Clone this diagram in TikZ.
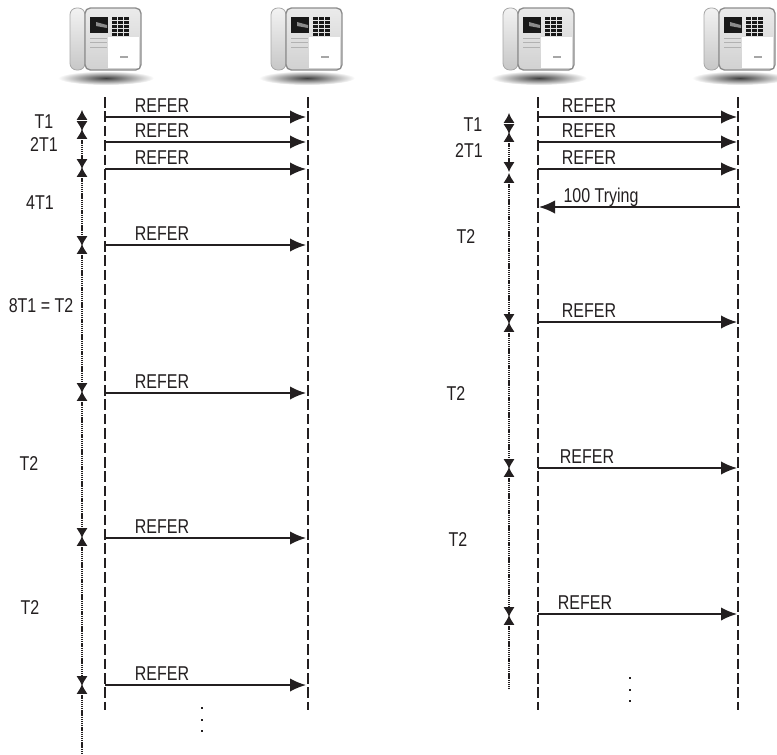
\documentclass[tikz,border=0pt]{standalone}
\usepackage{fontspec}
\setmainfont[FakeStretch=0.8]{Liberation Sans}
\usetikzlibrary{arrows.meta}
\definecolor{inkc}{HTML}{231F20}
\tikzset{
  lifeline/.style={inkc, line width=1.2pt, dash pattern=on 8pt off 2.8pt},
  msg/.style={-{Latex[length=12pt,width=10pt]}, inkc, line width=1.2pt},
  span/.style={{Latex[length=7.5pt,width=8.5pt]}-{Latex[length=7.5pt,width=8.5pt]}, inkc, line width=1.2pt, dash pattern=on 1pt off 0.6pt, shorten <=-0.8pt, shorten >=-0.8pt},
  spanend/.style={{Latex[length=7.5pt,width=8.5pt]}-, inkc, line width=1.2pt, dash pattern=on 1pt off 0.6pt, shorten <=-0.8pt},
  lbl/.style={inkc, font=\fontsize{15pt}{17pt}\selectfont, inner sep=0pt},
  vdot/.style={inkc, fill, minimum size=2.2pt, inner sep=0pt},
  phone/.pic={
    % Bóng dưới máy
    \shade[inner color=black!75, outer color=white] (36,70) ellipse (48 and 7);
    % Tổ hợp và thân máy
    \draw[black!35, line width=0.6pt, rounded corners=5pt, top color=black!5, bottom color=black!22] (0,0) rectangle (15,62);
    \draw[black!45, line width=1pt, rounded corners=4pt, top color=black!8, bottom color=black!18] (15,0) rectangle (71,62);
    \fill[white] (38,29) rectangle (69,60);
    % Màn hình
    \fill[black!90] (20,9) rectangle (38,25);
    \fill[black!45] (26,14) -- (37,17) -- (37,20) -- (26,18) -- cycle;
    % Bàn phím
    \foreach \kx in {42,48,54}
      \foreach \ky in {9,13,17,21,25}
        \fill[black!90] (\kx,\ky) rectangle ++(5,3);
    % Các vạch chữ
    \foreach \ky in {30,34,39}
      \draw[black!30, line width=0.7pt] (20,\ky) -- (37,\ky);
    \fill[black!35] (50,48) rectangle ++(8,2);
  }
}
\begin{document}
\begin{tikzpicture}[x=0.75pt, y=-0.75pt]
    \useasboundingbox (0,0) rectangle (777,754);

    % Điện thoại
    \path (70,8) pic {phone};
    \path (271,8) pic {phone};
    \path (503,8) pic {phone};
    \path (704,8) pic {phone};

    % Đường đời bên trái
    \coordinate (aTop) at (105,97);
    \coordinate (aBot) at (105,710);
    \coordinate (bTop) at (308,97);
    \coordinate (bBot) at (308,710);
    \draw[lifeline] (aTop) -- (aBot);
    \draw[lifeline] (bTop) -- (bBot);

    % Các bản tin bên trái
    \foreach \name/\yy in {p/117, q/142, r/169, s/245, t/393, u/538, v/685} {
        \coordinate (a\name) at (105,\yy);
        \coordinate (b\name) at (306,\yy);
        \draw[msg] (a\name) -- (b\name);
        \node[lbl, anchor=base] (refer\name) at (162,\yy-5) {REFER};
    }

    % Khoảng thời gian bên trái
    \foreach \name/\yy in {lA/111, lB/130, lC/168, lD/245, lE/392, lF/537, lG/685, lH/754}
        \coordinate (\name) at (82,\yy);
    \foreach \from/\to in {lA/lB, lB/lC, lC/lD, lD/lE, lE/lF, lF/lG}
        \draw[span] (\from) -- (\to);
    \draw[spanend] (lG) -- (lH);

    \node[lbl] (tA) at (44,122) {T1};
    \node[lbl] (tB) at (44,145) {2T1};
    \node[lbl] (tC) at (40,203) {4T1};
    \node[lbl] (tD) at (41,306) {8T1 = T2};
    \node[lbl] (tE) at (29,464) {T2};
    \node[lbl] (tF) at (30,608) {T2};

    \node[vdot] (dotA) at (202,708) {};
    \node[vdot] (dotB) at (202,720) {};
    \node[vdot] (dotC) at (202,731) {};

    % Đường đời bên phải
    \coordinate (cTop) at (538,97);
    \coordinate (cBot) at (538,710);
    \coordinate (dTop) at (738,97);
    \coordinate (dBot) at (738,710);
    \draw[lifeline] (cTop) -- (cBot);
    \draw[lifeline] (dTop) -- (dBot);

    % Các bản tin bên phải
    \foreach \name/\yy/\xx in {p/117/589, q/142/589, r/169/589, s/322/589, t/468/587, u/614/585} {
        \coordinate (c\name) at (538,\yy);
        \coordinate (d\name) at (737,\yy);
        \draw[msg] (c\name) -- (d\name);
        \node[lbl, anchor=base] (rrefer\name) at (\xx,\yy-5) {REFER};
    }
    \coordinate (cTry) at (539,207);
    \coordinate (dTry) at (740,207);
    \draw[msg] (dTry) -- (cTry);
    \node[lbl, anchor=base] (trying) at (601,202) {100 Trying};

    % Khoảng thời gian bên phải
    \foreach \name/\yy in {rA/114, rB/133, rC/171, rD/174, rE/323, rF/468, rG/616, rH/690}
        \coordinate (\name) at (509,\yy);
    \foreach \from/\to in {rA/rB, rB/rC, rD/rE, rE/rF, rF/rG}
        \draw[span] (\from) -- (\to);
    \draw[spanend] (rG) -- (rH);

    \node[lbl] (uA) at (473,125) {T1};
    \node[lbl] (uB) at (469,151) {2T1};
    \node[lbl] (uC) at (466,237) {T2};
    \node[lbl] (uD) at (456,394) {T2};
    \node[lbl] (uE) at (458,540) {T2};

    \node[vdot] (dotD) at (630,678) {};
    \node[vdot] (dotE) at (630,690) {};
    \node[vdot] (dotF) at (630,701) {};
\end{tikzpicture}
\end{document}
